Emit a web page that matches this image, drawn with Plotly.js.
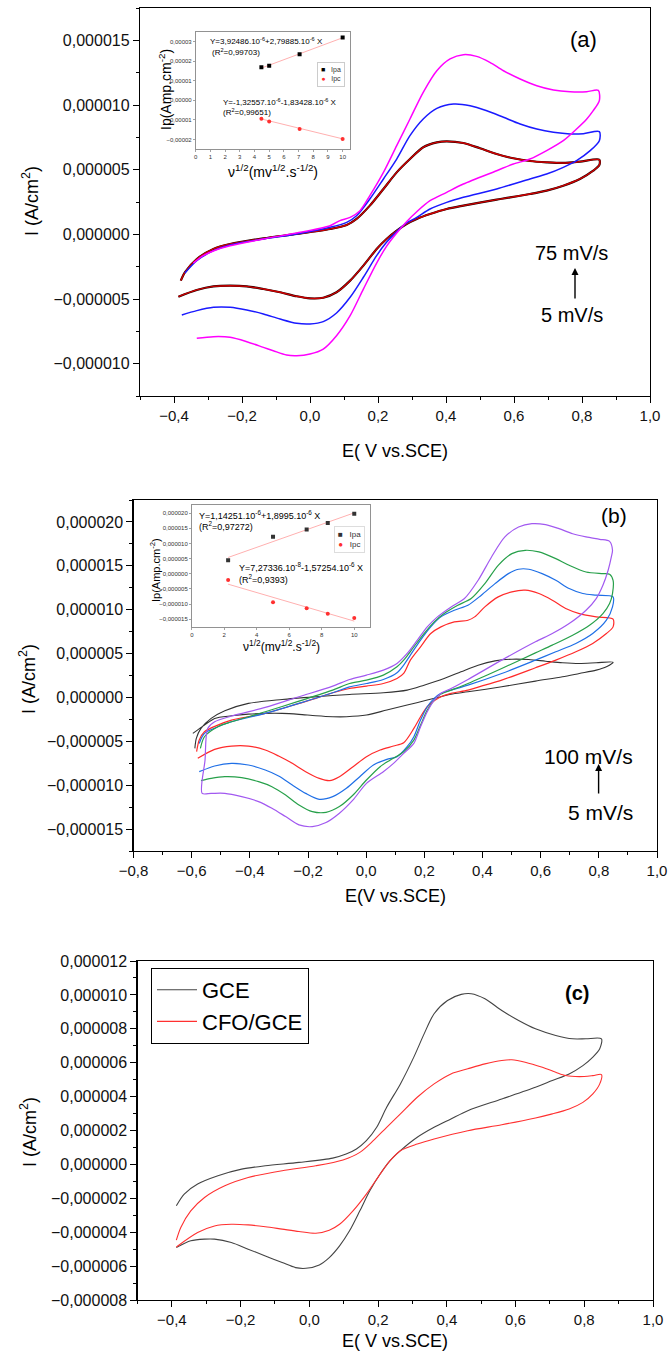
<!DOCTYPE html>
<html><head><meta charset="utf-8">
<script src="https://cdn.plot.ly/plotly-3.0.1.min.js"></script>
<style>body{margin:0;padding:0;background:#fff}#chart{width:672px;height:1355px}</style>
</head><body><div id="chart"></div>
<script>
// ---------- Panel (a): CV at several scan rates (E in V, I in µA/cm2) ----------
const aRedE = [-0.380,-0.368,-0.333,-0.284,-0.235,-0.137,-0.039,0.059,0.108,0.137,0.176,0.216,0.255,0.294,0.333,0.373,0.402,0.451,0.500,0.549,0.598,0.647,0.696,0.745,0.794,0.851,
  0.851,0.833,0.794,0.745,0.696,0.647,0.549,0.451,0.402,0.353,0.314,0.284,0.255,0.225,0.196,0.157,0.118,0.078,0.039,0.000,-0.039,-0.088,-0.137,-0.186,-0.235,-0.284,-0.333,-0.387];
const aRedI = [-3.58,-2.94,-1.91,-1.13,-0.75,-0.31,0.03,0.41,0.72,1.19,2.22,3.51,4.79,5.82,6.73,7.11,7.19,7.06,6.65,6.21,5.88,5.67,5.57,5.52,5.62,5.77,
  5.36,4.92,4.28,3.76,3.38,3.12,2.68,2.22,1.96,1.57,1.19,0.80,0.28,-0.36,-1.13,-2.42,-3.58,-4.48,-4.90,-4.95,-4.79,-4.48,-4.23,-4.02,-3.97,-4.02,-4.30,-4.82];
const aBlueE = [-0.368,-0.333,-0.284,-0.235,-0.137,-0.039,0.059,0.108,0.137,0.176,0.216,0.255,0.294,0.333,0.373,0.422,0.471,0.520,0.569,0.618,0.667,0.716,0.765,0.804,0.851,
  0.851,0.824,0.784,0.745,0.696,0.647,0.549,0.451,0.402,0.353,0.314,0.284,0.255,0.225,0.196,0.157,0.118,0.078,0.039,0.000,-0.039,-0.088,-0.137,-0.186,-0.235,-0.284,-0.333,-0.377];
const aBlueI = [-2.99,-2.04,-1.26,-0.82,-0.36,0.03,0.54,0.93,1.44,2.73,4.28,5.82,7.63,8.92,9.74,10.08,9.95,9.56,9.05,8.53,8.14,7.89,7.76,7.78,7.94,
  7.24,6.47,5.70,5.18,4.66,4.28,3.51,2.86,2.47,1.96,1.31,0.88,0.21,-0.62,-1.65,-3.32,-4.87,-6.08,-6.75,-6.93,-6.88,-6.55,-6.16,-5.85,-5.64,-5.64,-5.90,-6.24];
const aMagE = [-0.343,-0.314,-0.275,-0.235,-0.137,-0.039,0.059,0.088,0.118,0.147,0.176,0.216,0.255,0.294,0.333,0.373,0.412,0.451,0.490,0.529,0.569,0.618,0.667,0.716,0.765,0.814,0.848,
  0.851,0.833,0.814,0.784,0.745,0.696,0.647,0.598,0.549,0.451,0.402,0.353,0.314,0.284,0.255,0.225,0.196,0.157,0.118,0.078,0.039,0.000,-0.039,-0.069,-0.108,-0.137,-0.186,-0.235,-0.284,-0.333];
const aMagI = [-2.22,-1.65,-1.19,-0.88,-0.36,0.10,0.67,1.06,1.31,1.83,2.99,4.79,6.86,8.92,10.98,12.65,13.56,13.89,13.76,13.30,12.65,12.01,11.49,11.16,11.03,11.03,11.13,
  10.34,9.56,8.92,8.14,7.24,6.47,5.82,5.44,4.92,3.89,3.25,2.60,1.75,0.98,0.10,-0.93,-2.22,-4.23,-6.29,-7.84,-8.87,-9.25,-9.38,-9.33,-9.00,-8.74,-8.30,-7.96,-7.91,-8.04];

// ---------- Panel (b) ----------
const bBlackE = [-0.589,-0.584,-0.568,-0.533,-0.486,-0.405,-0.289,-0.173,-0.057,0.059,0.141,0.199,0.268,0.326,0.385,0.443,0.501,0.559,0.617,0.675,0.733,0.791,0.849,
  0.826,0.791,0.733,0.675,0.582,0.466,0.350,0.292,0.257,0.210,0.141,0.071,0.001,-0.068,-0.115,-0.173,-0.231,-0.289,-0.347,-0.405,-0.463,-0.521,-0.556,-0.596];
const bBlackI = [-5.80,-4.67,-3.53,-2.39,-1.52,-0.68,-0.23,0.08,0.34,0.53,0.83,1.40,2.16,2.92,3.68,4.17,4.36,4.32,4.13,3.95,3.87,3.95,4.02,
  3.49,3.11,2.73,2.35,1.86,1.21,0.64,0.38,0.08,-0.30,-0.87,-1.44,-2.01,-2.20,-2.20,-2.09,-1.93,-1.82,-1.82,-1.90,-2.09,-2.39,-3.15,-4.10];
const bRedE = [-0.583,-0.574,-0.556,-0.510,-0.463,-0.347,-0.231,-0.173,-0.115,-0.057,0.001,0.059,0.106,0.129,0.152,0.187,0.222,0.257,0.303,0.350,0.373,0.408,0.454,0.501,0.547,0.594,0.640,0.686,0.733,0.791,0.849,
  0.849,0.826,0.779,0.721,0.652,0.582,0.466,0.408,0.350,0.292,0.257,0.234,0.210,0.187,0.164,0.129,0.094,0.048,0.001,-0.045,-0.092,-0.126,-0.161,-0.208,-0.254,-0.301,-0.347,-0.405,-0.463,-0.521,-0.579];
const bRedI = [-6.18,-4.86,-3.91,-3.15,-2.58,-1.82,-0.68,-0.11,0.53,1.02,1.29,1.59,2.16,2.73,4.25,5.77,7.28,8.04,8.61,8.80,9.18,10.32,11.46,12.03,12.22,11.84,11.08,10.13,9.56,9.18,8.92,
  8.04,7.28,6.15,5.20,4.25,3.38,1.97,1.40,0.83,0.46,0.08,-0.38,-1.06,-2.20,-3.53,-5.16,-5.54,-5.99,-6.75,-7.89,-9.03,-9.48,-9.22,-8.46,-7.51,-6.68,-5.99,-5.54,-5.54,-5.92,-6.94];
const bBlueE = [-0.574,-0.556,-0.510,-0.463,-0.347,-0.231,-0.115,-0.057,0.001,0.059,0.106,0.129,0.152,0.187,0.222,0.257,0.303,0.350,0.396,0.443,0.489,0.524,0.559,0.605,0.652,0.698,0.745,0.791,0.849,
  0.847,0.826,0.779,0.721,0.652,0.582,0.466,0.350,0.292,0.257,0.234,0.210,0.187,0.164,0.141,0.106,0.071,0.025,-0.022,-0.068,-0.115,-0.161,-0.208,-0.254,-0.301,-0.347,-0.405,-0.463,-0.521,-0.574];
const bBlueI = [-5.24,-4.10,-3.34,-2.77,-1.82,-0.68,0.53,1.21,1.59,2.05,2.81,3.68,4.82,6.53,8.04,9.18,9.94,10.51,11.65,12.97,14.11,14.61,14.61,14.11,13.35,12.41,11.84,11.65,11.46,
  10.32,8.80,7.28,6.15,5.20,4.25,2.73,1.40,0.83,0.46,-0.11,-1.06,-2.58,-4.48,-5.61,-6.75,-7.06,-7.70,-9.03,-10.36,-11.31,-11.61,-10.93,-9.98,-8.95,-8.27,-7.70,-7.51,-7.81,-8.46];
const bGreenE = [-0.570,-0.556,-0.510,-0.463,-0.347,-0.231,-0.115,-0.057,0.001,0.059,0.106,0.129,0.164,0.199,0.234,0.268,0.315,0.361,0.408,0.454,0.501,0.547,0.594,0.652,0.698,0.756,0.814,0.837,0.849,
  0.847,0.837,0.814,0.768,0.710,0.640,0.582,0.466,0.350,0.292,0.257,0.234,0.210,0.187,0.164,0.129,0.083,0.048,0.001,-0.045,-0.092,-0.138,-0.185,-0.231,-0.277,-0.324,-0.370,-0.428,-0.486,-0.533,-0.568];
const bGreenI = [-5.80,-4.48,-3.34,-2.77,-1.63,-0.42,0.83,1.59,1.97,2.54,3.49,4.25,5.77,7.28,8.61,9.56,10.51,11.27,12.97,15.06,16.39,16.77,16.58,15.82,15.06,14.30,14.11,14.04,13.35,
  11.84,10.70,9.56,8.23,7.09,5.96,5.08,3.30,1.59,0.83,0.38,-0.30,-1.44,-3.15,-4.86,-6.18,-7.13,-7.89,-9.41,-11.12,-12.44,-13.09,-13.01,-12.25,-11.12,-10.17,-9.60,-9.14,-9.03,-9.22,-9.48];
const bPurpleE = [-0.564,-0.554,-0.545,-0.521,-0.463,-0.347,-0.231,-0.115,-0.057,0.001,0.059,0.106,0.141,0.176,0.210,0.245,0.292,0.338,0.385,0.431,0.477,0.524,0.570,0.617,0.663,0.710,0.756,0.803,0.837,0.847,
  0.843,0.832,0.814,0.791,0.756,0.698,0.640,0.582,0.466,0.350,0.292,0.257,0.234,0.210,0.187,0.164,0.129,0.094,0.059,0.001,-0.045,-0.092,-0.138,-0.185,-0.231,-0.277,-0.324,-0.370,-0.428,-0.486,-0.533,-0.564];
const bPurpleI = [-10.93,-7.13,-3.53,-2.77,-2.12,-1.14,0.08,1.29,2.05,2.54,3.11,3.87,5.01,6.53,8.04,9.18,10.32,11.27,13.35,16.01,18.29,19.42,19.80,19.69,19.23,18.66,18.29,18.02,17.79,16.77,
  16.01,14.49,12.78,11.27,9.94,8.42,7.28,6.34,4.25,2.05,1.02,0.46,-0.30,-1.63,-3.34,-5.24,-6.37,-7.51,-8.46,-9.79,-11.68,-13.20,-14.26,-14.72,-14.53,-13.58,-12.63,-11.87,-11.31,-10.93,-10.93,-10.93];

// ---------- Panel (c) ----------
const cGceE = [-0.387,-0.364,-0.325,-0.266,-0.197,-0.128,-0.030,0.068,0.107,0.137,0.166,0.196,0.225,0.265,0.304,0.334,0.363,0.402,0.442,0.471,0.511,0.560,0.609,0.658,0.717,0.766,0.805,0.850,
  0.845,0.825,0.796,0.756,0.707,0.658,0.560,0.461,0.412,0.363,0.314,0.265,0.235,0.206,0.176,0.147,0.117,0.088,0.058,0.029,-0.010,-0.040,-0.079,-0.128,-0.178,-0.227,-0.276,-0.305,-0.345,-0.387];
const cGceI = [-2.44,-1.75,-1.16,-0.67,-0.28,-0.08,0.12,0.37,0.61,0.91,1.40,2.19,3.37,4.75,6.33,7.70,8.89,9.67,10.03,10.07,9.77,9.08,8.49,8.00,7.61,7.41,7.41,7.41,
  6.82,6.33,5.83,5.34,4.95,4.55,3.86,3.17,2.68,2.19,1.60,0.81,0.22,-0.57,-1.56,-2.74,-3.92,-4.81,-5.50,-5.93,-6.13,-6.09,-5.79,-5.40,-5.00,-4.61,-4.41,-4.41,-4.51,-4.91];
const cCfoE = [-0.387,-0.374,-0.345,-0.305,-0.246,-0.178,-0.079,0.019,0.098,0.147,0.186,0.225,0.265,0.314,0.363,0.412,0.461,0.511,0.560,0.589,0.628,0.678,0.717,0.746,0.786,0.825,0.850,
  0.845,0.825,0.796,0.756,0.707,0.658,0.560,0.461,0.363,0.314,0.265,0.235,0.206,0.166,0.127,0.088,0.058,0.019,-0.030,-0.079,-0.128,-0.178,-0.227,-0.276,-0.325,-0.387];
const cCfoI = [-4.47,-3.72,-2.74,-1.95,-1.26,-0.77,-0.37,-0.08,0.26,0.71,1.40,2.19,2.98,3.96,4.75,5.34,5.64,5.93,6.13,6.17,6.03,5.73,5.44,5.24,5.18,5.24,5.30,
  4.75,4.16,3.66,3.27,2.98,2.74,2.34,1.99,1.50,1.20,0.81,0.22,-0.57,-1.75,-2.74,-3.53,-3.88,-4.06,-3.96,-3.82,-3.68,-3.57,-3.53,-3.63,-4.02,-4.87];
const cNames = ['GCE', 'CFO/GCE'];

// ---------- Insets: peak current vs sqrt(scan rate) ----------
const insA_v = [4.47, 5.00, 7.07, 10.00];
const insA_Ipa = [1.69e-5, 1.76e-5, 2.35e-5, 3.21e-5];
const insA_Ipc = [-0.94e-5, -1.08e-5, -1.47e-5, -1.98e-5];
const insA_fitIpa = [3.92486e-6, 2.79885e-6];
const insA_fitIpc = [-1.32557e-6, -1.83428e-6];
const insB_v = [2.236, 5.00, 7.07, 8.37, 10.00];
const insB_Ipa = [4.44e-6, 12.2e-6, 14.6e-6, 16.8e-6, 19.8e-6];
const insB_Ipc = [-2.1e-6, -9.4e-6, -11.4e-6, -13.2e-6, -14.6e-6];
const insB_fitIpa = [1.14251e-6, 1.8995e-6];
const insB_fitIpc = [7.27336e-8, -1.57254e-6];

// ---------- helpers ----------
const W = 672, H = 1355;
const px = x => x / W, py = y => 1 - y / H;
const uA = arr => arr.map(v => v * 1e-6);
const FONT = 'Liberation Sans, Arial, sans-serif';

function cv(E, I, xa, ya, color, width, name, showlegend) {
  return {x: E, y: uA(I), xaxis: xa, yaxis: ya, type: 'scatter', mode: 'lines',
    line: {color: color, width: width, shape: 'spline', smoothing: 0.8},
    name: name || '', showlegend: !!showlegend, hoverinfo: 'skip'};
}
function fitLine(v, coef, xa, ya) {
  const xs = [v[0], v[v.length - 1]];
  return {x: xs, y: xs.map(x => coef[0] + coef[1] * x), xaxis: xa, yaxis: ya, type: 'scatter',
    mode: 'lines', line: {color: '#ffb0b0', width: 1}, showlegend: false, hoverinfo: 'skip'};
}
function pts(v, vals, xa, ya, color, symbol) {
  return {x: v, y: vals, xaxis: xa, yaxis: ya, type: 'scatter', mode: 'markers',
    marker: {color: color, size: 4, symbol: symbol}, showlegend: false, hoverinfo: 'skip'};
}

const traces = [
  cv(aRedE, aRedI, 'x', 'y', '#1a0000', 2.2),
  cv(aRedE, aRedI, 'x', 'y', '#d00000', 1.4),
  cv(aBlueE, aBlueI, 'x', 'y', '#1a1aff', 1.5),
  cv(aMagE, aMagI, 'x', 'y', '#ff00ff', 1.5),
  cv(bBlackE, bBlackI, 'x2', 'y2', '#333333', 1.1),
  cv(bRedE, bRedI, 'x2', 'y2', '#ff2a2a', 1.2),
  cv(bBlueE, bBlueI, 'x2', 'y2', '#1f6fe6', 1.2),
  cv(bGreenE, bGreenI, 'x2', 'y2', '#27a04a', 1.2),
  cv(bPurpleE, bPurpleI, 'x2', 'y2', '#a259f0', 1.2),
  cv(cGceE, cGceI, 'x3', 'y3', '#444444', 1.1, cNames[0], true),
  cv(cCfoE, cCfoI, 'x3', 'y3', '#ff3030', 1.1, cNames[1], true),
  fitLine(insA_v, insA_fitIpa, 'x4', 'y4'),
  fitLine(insA_v, insA_fitIpc, 'x4', 'y4'),
  pts(insA_v, insA_Ipa, 'x4', 'y4', '#000000', 'square'),
  pts(insA_v, insA_Ipc, 'x4', 'y4', '#ff3030', 'circle'),
  fitLine(insB_v, insB_fitIpa, 'x5', 'y5'),
  fitLine(insB_v, insB_fitIpc, 'x5', 'y5'),
  pts(insB_v, insB_Ipa, 'x5', 'y5', '#333333', 'square'),
  pts(insB_v, insB_Ipc, 'x5', 'y5', '#ff3030', 'circle')
];

function mainX(domain, range, anchor) {
  return {domain: domain, range: range, anchor: anchor, tickmode: 'linear', tick0: 0, dtick: 0.2,
    tickformat: '.1f', ticks: 'outside', ticklen: 6, tickwidth: 1, tickcolor: '#000',
    showline: true, linecolor: '#000', linewidth: 1.2, mirror: true, showgrid: false, zeroline: false,
    tickfont: {family: FONT, size: 15, color: '#111'},
    minor: {tick0: 0, dtick: 0.1, ticks: 'outside', ticklen: 3, tickcolor: '#000', showgrid: false}};
}
function mainY(domain, range, anchor, dtick, minor) {
  return {domain: domain, range: range, anchor: anchor, tickmode: 'linear', tick0: 0, dtick: dtick,
    tickformat: '.6f', ticks: 'outside', ticklen: 6, tickwidth: 1, tickcolor: '#000',
    showline: true, linecolor: '#000', linewidth: 1.2, mirror: true, showgrid: false, zeroline: false,
    tickfont: {family: FONT, size: 16, color: '#111'},
    minor: {tick0: 0, dtick: minor, ticks: 'outside', ticklen: 3, tickcolor: '#000', showgrid: false}};
}
function insX(domain, range, anchor, dtick) {
  return {domain: domain, range: range, anchor: anchor, tickmode: 'linear', tick0: 0, dtick: dtick,
    ticks: 'outside', ticklen: 2, tickwidth: 0.6, tickcolor: '#666',
    showline: true, linecolor: '#777', linewidth: 0.8, mirror: true, showgrid: false, zeroline: false,
    tickfont: {family: FONT, size: 6, color: '#333'}};
}
function insY(domain, range, anchor, dtick, fmt) {
  return {domain: domain, range: range, anchor: anchor, tickmode: 'linear', tick0: 0, dtick: dtick,
    tickformat: fmt, ticks: 'outside', ticklen: 2, tickwidth: 0.6, tickcolor: '#666',
    showline: true, linecolor: '#777', linewidth: 0.8, mirror: true, showgrid: false, zeroline: false,
    tickfont: {family: FONT, size: 6, color: '#333'}};
}

function txt(x, y, text, size, opts) {
  return Object.assign({xref: 'paper', yref: 'paper', x: px(x), y: py(y), text: text, showarrow: false,
    xanchor: 'center', yanchor: 'middle', font: {family: FONT, size: size, color: '#000'}}, opts || {});
}
function arrow(x, yHead, len) {
  return {xref: 'paper', yref: 'paper', x: px(x), y: py(yHead), ax: 0, ay: len, text: '',
    showarrow: true, arrowhead: 2, arrowsize: 1, arrowwidth: 1.4, arrowcolor: '#000'};
}

const yTitle = 'I (A/cm<sup>2</sup>)';
const annotations = [
  txt(31, 201, yTitle, 18, {textangle: -90}),
  txt(395, 451, 'E( V vs.SCE)', 18),
  txt(27, 679, yTitle, 18, {textangle: -90}),
  txt(395, 896, 'E(V vs.SCE)', 18),
  txt(28, 1132, yTitle, 18, {textangle: -90}),
  txt(395, 1341, 'E( V vs.SCE)', 18),
  txt(583, 39, '(a)', 22),
  txt(614, 516, '(b)', 21),
  txt(577, 993, '<b>(c)</b>', 20),
  txt(571, 253, '75 mV/s', 20),
  txt(572, 315, '5 mV/s', 20),
  arrow(575, 268, 32),
  txt(588, 756, '100 mV/s', 21),
  txt(600, 812, '5 mV/s', 21),
  arrow(598.6, 764, 31),
  txt(208, 41, 'Y=3,92486.10<sup>-6</sup>+2,79885.10<sup>-6</sup> X', 8, {xanchor: 'left'}),
  txt(210, 52, '(R<sup>2</sup>=0,99703)', 8, {xanchor: 'left'}),
  txt(221, 102, 'Y=-1,32557.10<sup>-6</sup>-1,83428.10<sup>-6</sup> X', 8, {xanchor: 'left'}),
  txt(221, 112, '(R<sup>2</sup>=0,99651)', 8, {xanchor: 'left'}),
  txt(331, 74, '<span style="color:#000">■</span>   Ipa<br><span style="color:#ff3030">●</span>   Ipc', 7,
    {bordercolor: '#cccccc', borderwidth: 1, borderpad: 3, bgcolor: '#fff', font: {family: FONT, size: 7, color: '#333'}}),
  txt(165, 90, 'Ip(Amp.cm<sup>-2</sup>)', 14, {textangle: -90}),
  txt(273, 171, 'ν<sup>1/2</sup>(mv<sup>1/2</sup>.s<sup>-1/2</sup>)', 14),
  txt(196.5, 515, 'Y=1,14251.10<sup>-6</sup>+1,8995.10<sup>-6</sup> X', 9, {xanchor: 'left'}),
  txt(197, 526, '(R<sup>2</sup>=0,97272)', 9, {xanchor: 'left'}),
  txt(237, 567, 'Y=7,27336.10<sup>-8</sup>-1,57254.10<sup>-6</sup> X', 9, {xanchor: 'left'}),
  txt(237, 579, '(R<sup>2</sup>=0,9393)', 9, {xanchor: 'left'}),
  txt(349.6, 540, '<span style="color:#333">■</span>   Ipa<br><span style="color:#ff3030">●</span>   Ipc', 8,
    {bordercolor: '#dddddd', borderwidth: 1, borderpad: 3, bgcolor: '#fff', font: {family: FONT, size: 8, color: '#333'}}),
  txt(155, 570, 'Ip(Amp.cm<sup>-2</sup>)', 11, {textangle: -90}),
  txt(281, 646, 'ν<sup>1/2</sup>(mv<sup>1/2</sup>.s<sup>-1/2</sup>)', 12)
];

const layout = {
  width: W, height: H, margin: {l: 0, r: 0, t: 0, b: 0},
  paper_bgcolor: '#fff', plot_bgcolor: 'rgba(0,0,0,0)',
  separators: ',.',
  font: {family: FONT, color: '#000'},
  xaxis: mainX([px(140), px(650)], [-0.5, 1.0], 'y'),
  yaxis: mainY([py(396), py(8)], [-1.25e-5, 1.75e-5], 'x', 5e-6, 2.5e-6),
  xaxis2: mainX([px(133.5), px(657)], [-0.8, 1.0], 'y2'),
  yaxis2: mainY([py(851), py(500)], [-1.75e-5, 2.25e-5], 'x2', 5e-6, 2.5e-6),
  xaxis3: mainX([px(137.5), px(653)], [-0.5, 1.0], 'y3'),
  yaxis3: mainY([py(1300), py(961)], [-8e-6, 12e-6], 'x3', 2e-6, 1e-6),
  xaxis4: insX([px(195.7), px(350)], [0, 10.5], 'y4', 1),
  yaxis4: insY([py(149.3), py(31.7)], [-2.5e-5, 3.5e-5], 'x4', 1e-5, '.5f'),
  xaxis5: insX([px(191.8), px(370.5)], [0, 11], 'y5', 2),
  yaxis5: insY([py(627), py(504.8)], [-1.76e-5, 2.28e-5], 'x5', 5e-6, '.6f'),
  legend: {x: px(151), y: py(968), xanchor: 'left', yanchor: 'top', bgcolor: '#fff',
    bordercolor: '#000', borderwidth: 1, font: {family: FONT, size: 22, color: '#000'},
    tracegroupgap: 0, itemwidth: 40},
  annotations: annotations
};

Plotly.newPlot('chart', traces, layout, {staticPlot: true, displayModeBar: false});
</script>
</body></html>
